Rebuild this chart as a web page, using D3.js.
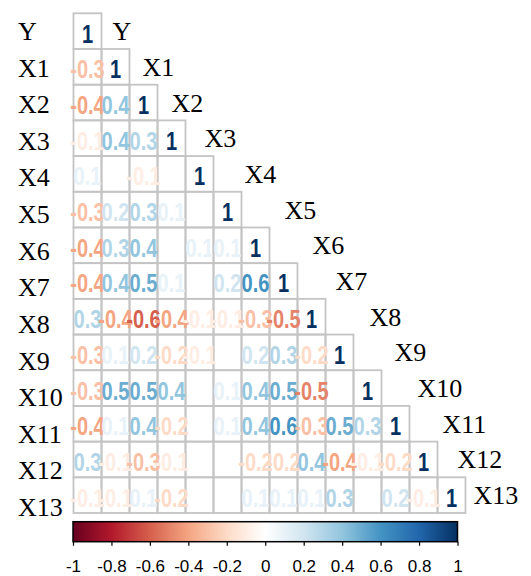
<!DOCTYPE html>
<html>
<head>
<meta charset="utf-8">
<script src="https://cdn.jsdelivr.net/npm/d3@7"></script>
<style>
  html, body { margin: 0; padding: 0; background: #fff; }
  svg { display: block; }
</style>
</head>
<body>
<svg id="chart" width="531" height="576"></svg>
<script>
// ---- data ----
const variables = ["Y","X1","X2","X3","X4","X5","X6","X7","X8","X9","X10","X11","X12","X13"];
// lower-triangle correlation rows (row i has i+1 values: columns Y..Xi)
const rowY   = [1];
const rowX1  = [-0.3, 1];
const rowX2  = [-0.4, 0.4, 1];
const rowX3  = [-0.1, 0.4, 0.3, 1];
const rowX4  = [0.1, 0, -0.1, 0, 1];
const rowX5  = [-0.3, 0.2, 0.3, 0.1, 0, 1];
const rowX6  = [-0.4, 0.3, 0.4, 0, 0.1, 0.1, 1];
const rowX7  = [-0.4, 0.4, 0.5, 0.1, 0, 0.2, 0.6, 1];
const rowX8  = [0.3, -0.4, -0.6, -0.4, -0.1, -0.1, -0.3, -0.5, 1];
const rowX9  = [-0.3, 0.1, 0.2, -0.2, -0.1, 0, 0.2, 0.3, -0.2, 1];
const rowX10 = [-0.3, 0.5, 0.5, 0.4, 0, 0.1, 0.4, 0.5, -0.5, 0, 1];
const rowX11 = [-0.4, 0.1, 0.4, -0.2, 0, 0.1, 0.4, 0.6, -0.3, 0.5, 0.3, 1];
const rowX12 = [0.3, -0.1, -0.3, -0.1, 0, 0, -0.2, -0.2, 0.4, -0.4, -0.1, -0.2, 1];
const rowX13 = [-0.1, -0.1, 0.1, -0.2, 0, 0, 0.1, 0.1, 0.1, 0.3, 0, 0.2, -0.1, 1];
const corrRows = [rowY,rowX1,rowX2,rowX3,rowX4,rowX5,rowX6,rowX7,rowX8,rowX9,rowX10,rowX11,rowX12,rowX13];
const paletteRdBu = ["#67001F","#B2182B","#D6604D","#F4A582","#FDDBC7","#FFFFFF","#D1E5F0","#92C5DE","#4393C3","#2166AC","#053061"];
const colorbarTicks = [-1,-0.8,-0.6,-0.4,-0.2,0,0.2,0.4,0.6,0.8,1];

// ---- layout ----
const gridLeft = 73.5, gridRight = 465.5, gridTop = 13.3, gridBottom = 513;
const diagLabelNudge = [11,13,14,19,31,43,43,38,44,41,36,33,20,8];
const barLeft = 73, barRight = 457.5, barTop = 521.7, barBottom = 541.7;

const svg = d3.select("#chart");

const x = d3.scaleBand().domain(variables).range([gridLeft, gridRight]);
const y = d3.scaleBand().domain(variables).range([gridTop, gridBottom]);
const color = d3.scaleLinear()
  .domain(d3.range(paletteRdBu.length).map(i => -1 + 2 * i / (paletteRdBu.length - 1)))
  .range(paletteRdBu)
  .interpolate(d3.interpolateRgb);

const cells = [];
corrRows.forEach((row, i) => {
  row.forEach((v, j) => cells.push({ r: variables[i], c: variables[j], v }));
});

// grid cells
svg.append("g").selectAll("rect").data(cells).join("rect")
  .attr("x", d => x(d.c))
  .attr("y", d => y(d.r))
  .attr("width", x.bandwidth())
  .attr("height", y.bandwidth())
  .attr("fill", "none")
  .attr("stroke", "#c4c4c4")
  .attr("stroke-width", 1.8);

// numbers
svg.append("g").selectAll("text").data(cells).join("text")
  .attr("transform", d => `translate(${x(d.c) + x.bandwidth() / 2},${y(d.r) + y.bandwidth() / 2 + 11.5}) scale(0.8,1)`)
  .attr("text-anchor", "middle")
  .attr("font-family", "'Liberation Sans', Arial, sans-serif")
  .attr("font-size", 25)
  .attr("font-weight", "bold")
  .attr("fill", d => color(d.v))
  .text(d => String(d.v));

// left labels
const yLab = d3.scalePoint().domain(variables).range([40, 516]);
svg.append("g").selectAll("text").data(variables).join("text")
  .attr("x", 18)
  .attr("y", d => yLab(d))
  .attr("font-family", "'Liberation Serif', 'Times New Roman', serif")
  .attr("font-size", 26)
  .attr("fill", "#000")
  .text(d => d);

// diagonal labels
svg.append("g").selectAll("text").data(variables).join("text")
  .attr("x", (d, i) => x(d) + x.bandwidth() + diagLabelNudge[i])
  .attr("y", d => y(d) + y.bandwidth() / 2 + 9)
  .attr("font-family", "'Liberation Serif', 'Times New Roman', serif")
  .attr("font-size", 26)
  .attr("fill", "#000")
  .text(d => d);

// colorbar
const defs = svg.append("defs");
const grad = defs.append("linearGradient").attr("id", "cbar")
  .attr("x1", "0%").attr("x2", "100%").attr("y1", "0%").attr("y2", "0%");
grad.selectAll("stop").data(paletteRdBu).join("stop")
  .attr("offset", (d, i) => (100 * i / (paletteRdBu.length - 1)) + "%")
  .attr("stop-color", d => d);

const cx = d3.scaleLinear().domain([-1, 1]).range([barLeft, barRight]);
svg.append("rect")
  .attr("x", barLeft).attr("y", barTop)
  .attr("width", barRight - barLeft).attr("height", barBottom - barTop)
  .attr("fill", "url(#cbar)")
  .attr("stroke", "#000").attr("stroke-width", 1.5);

const axis = d3.axisBottom(cx).tickValues(colorbarTicks).tickSize(4).tickFormat(d => String(d));
const ax = svg.append("g").attr("transform", `translate(0,${barBottom})`).call(axis);
ax.select(".domain").remove();
ax.selectAll(".tick line").attr("stroke", "#000").attr("stroke-width", 1.2);
ax.selectAll(".tick text")
  .attr("y", 0)
  .attr("dy", 0)
  .attr("transform", "translate(0,30.5)")
  .attr("font-family", "'Liberation Sans', Arial, sans-serif")
  .attr("font-size", 17)
  .attr("fill", "#000");
</script>
</body>
</html>
